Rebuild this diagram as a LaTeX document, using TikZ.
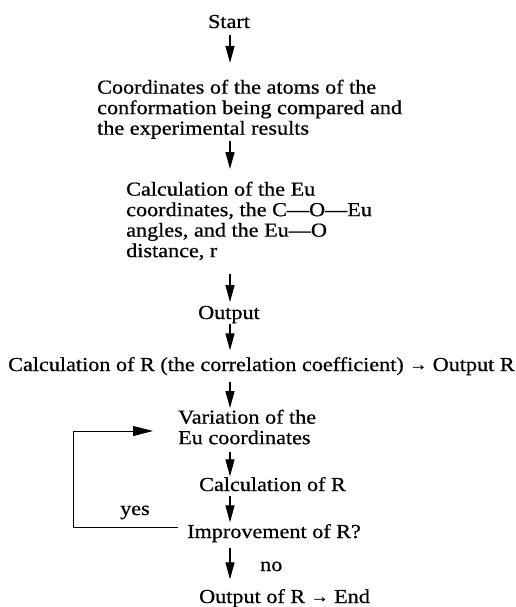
\documentclass[tikz,border=0pt]{standalone}
\usepackage{fontspec}
\setmainfont{Liberation Serif}[FakeStretch=1.12,FakeBold=0.6]
\usepackage{tikz}
\usetikzlibrary{arrows.meta}
\newcommand{\smallto}{\raisebox{1pt}{\fontsize{16}{16}\selectfont→}}

\begin{document}
\begin{tikzpicture}[x=1pt,y=-1pt,
  txt/.style={inner sep=0pt,font=\fontsize{19.8}{20.5}\selectfont},
  para/.style={txt,align=left,anchor=north west},
  flow/.style={line width=1.2pt,-{Triangle[width=9pt,length=17pt]}}]
 \useasboundingbox (0,0) rectangle (516,607);
 \coordinate (axis) at (230,0);
 \node[txt,anchor=base] (start) at (229,28) {Start};
 \node[para] (coords) at (97,79.5) {Coordinates of the atoms of the\\conformation being compared and\\the experimental results};
 \node[para] (calcEu) at (126,181.5) {Calculation of the Eu\\coordinates, the C---O---Eu\\angles, and the Eu---O\\distance, r};
 \node[txt,anchor=base] (output) at (229,319) {Output};
 \node[txt,anchor=base west] (calcR) at (8,371) {Calculation of R (the correlation coefficient) \smallto{} Output R};
 \node[para] (var) at (178,409.5) {Variation of the\\Eu coordinates};
 \node[txt,anchor=base west] (calcR2) at (199,491) {Calculation of R};
 \node[txt,anchor=base west] (improve) at (187,538) {Improvement of R?};
 \node[txt,anchor=base west] (yes) at (120,515) {yes};
 \node[txt,anchor=base west] (no) at (260,571) {no};
 \node[txt,anchor=base west] (final) at (199,603) {Output of R \smallto{} End};
 \coordinate (back) at (73,431);
 % downward arrows
 \draw[flow,shorten <=7pt,shorten >=16.5pt] (axis |- start.south) -- (axis |- coords.north);
 \draw[flow,shorten <=2pt,shorten >=12.5pt] (axis |- coords.south) -- (axis |- calcEu.north);
 \draw[flow,shorten <=13.4pt,shorten >=3.6pt] (axis |- calcEu.south) -- (axis |- output.north);
 \draw[flow,shorten <=1pt,shorten >=6.5pt] (axis |- output.south) -- (axis |- calcR.north);
 \draw[flow,shorten <=6.5pt,shorten >=1.5pt] (axis |- calcR.south) -- (axis |- var.north);
 \draw[flow,shorten <=7pt,shorten >=0.5pt] (axis |- var.south) -- (axis |- calcR2.north);
 \draw[flow,shorten <=5pt,shorten >=1.5pt] (axis |- calcR2.south) -- (axis |- improve.north);
 \draw[flow,shorten <=5.7pt,shorten >=9.5pt] (axis |- improve.south) -- (axis |- final.north);
 % loop back
 \draw[flow,line width=1pt,-{Triangle[width=10pt,length=20pt]},shorten >=25pt]
   ([xshift=-9pt,yshift=11pt]improve.base west) -| (back) -- (back -| var.west);
\end{tikzpicture}
\end{document}
